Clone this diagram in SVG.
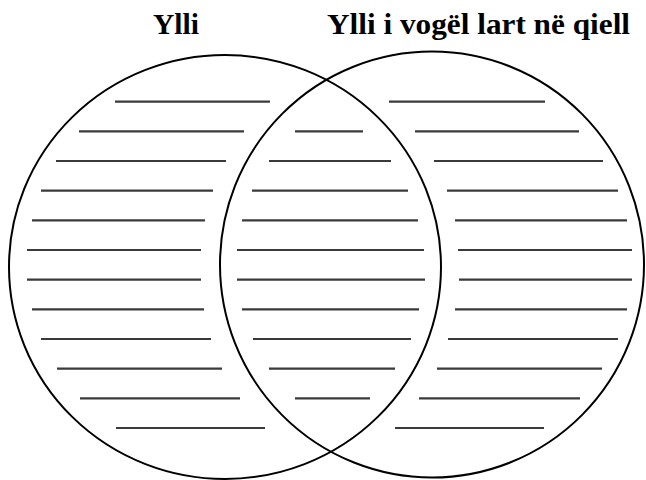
<svg xmlns="http://www.w3.org/2000/svg" width="646" height="480" viewBox="0 0 646 480">
<style>
.t{font-family:"Liberation Serif","Times New Roman",serif;font-weight:bold;font-size:29px;fill:#000}
.c{fill:none;stroke:#000;stroke-width:2}
.l{stroke:#3a3a3a;stroke-width:2.2}
</style>
<rect width="646" height="480" fill="#fff"/>
<g id="title-left"><text class="t" x="153" y="34" textLength="46" lengthAdjust="spacingAndGlyphs">Ylli</text></g>
<g id="title-right"><text class="t" x="327" y="34" textLength="303" lengthAdjust="spacingAndGlyphs">Ylli i vogël lart në qiell</text></g>
<g id="circle-left"><ellipse class="c" cx="225" cy="267" rx="216" ry="212"/></g>
<g id="circle-right"><ellipse class="c" cx="432" cy="264.5" rx="212" ry="213"/></g>
<g id="lines-left" class="l">
<line x1="115" y1="101.7" x2="270" y2="101.7"/>
<line x1="79" y1="131.4" x2="244" y2="131.4"/>
<line x1="56" y1="161" x2="226" y2="161"/>
<line x1="41" y1="190.7" x2="213" y2="190.7"/>
<line x1="32" y1="220.3" x2="205" y2="220.3"/>
<line x1="27" y1="250" x2="201" y2="250"/>
<line x1="27" y1="279.7" x2="201" y2="279.7"/>
<line x1="32" y1="309.3" x2="204" y2="309.3"/>
<line x1="41" y1="339" x2="211" y2="339"/>
<line x1="57" y1="368.7" x2="222" y2="368.7"/>
<line x1="80" y1="398.3" x2="240" y2="398.3"/>
<line x1="116" y1="428" x2="265" y2="428"/>
</g>
<g id="lines-middle" class="l">
<line x1="295" y1="131.4" x2="363" y2="131.4"/>
<line x1="269" y1="161" x2="391" y2="161"/>
<line x1="252" y1="190.7" x2="408" y2="190.7"/>
<line x1="242" y1="220.3" x2="418" y2="220.3"/>
<line x1="237" y1="250" x2="424" y2="250"/>
<line x1="237" y1="279.7" x2="425" y2="279.7"/>
<line x1="242" y1="309.3" x2="419" y2="309.3"/>
<line x1="253" y1="339" x2="411" y2="339"/>
<line x1="269" y1="368.7" x2="395" y2="368.7"/>
<line x1="295" y1="398.3" x2="370" y2="398.3"/>
</g>
<g id="lines-right" class="l">
<line x1="389" y1="101.7" x2="545" y2="101.7"/>
<line x1="415" y1="131.4" x2="579" y2="131.4"/>
<line x1="434" y1="161" x2="603" y2="161"/>
<line x1="447" y1="190.7" x2="618" y2="190.7"/>
<line x1="455" y1="220.3" x2="627" y2="220.3"/>
<line x1="458" y1="250" x2="632" y2="250"/>
<line x1="459" y1="279.7" x2="632" y2="279.7"/>
<line x1="455" y1="309.3" x2="627" y2="309.3"/>
<line x1="448" y1="339" x2="618" y2="339"/>
<line x1="437" y1="368.7" x2="602" y2="368.7"/>
<line x1="419" y1="398.3" x2="580" y2="398.3"/>
<line x1="395" y1="428" x2="544" y2="428"/>
</g>
</svg>
